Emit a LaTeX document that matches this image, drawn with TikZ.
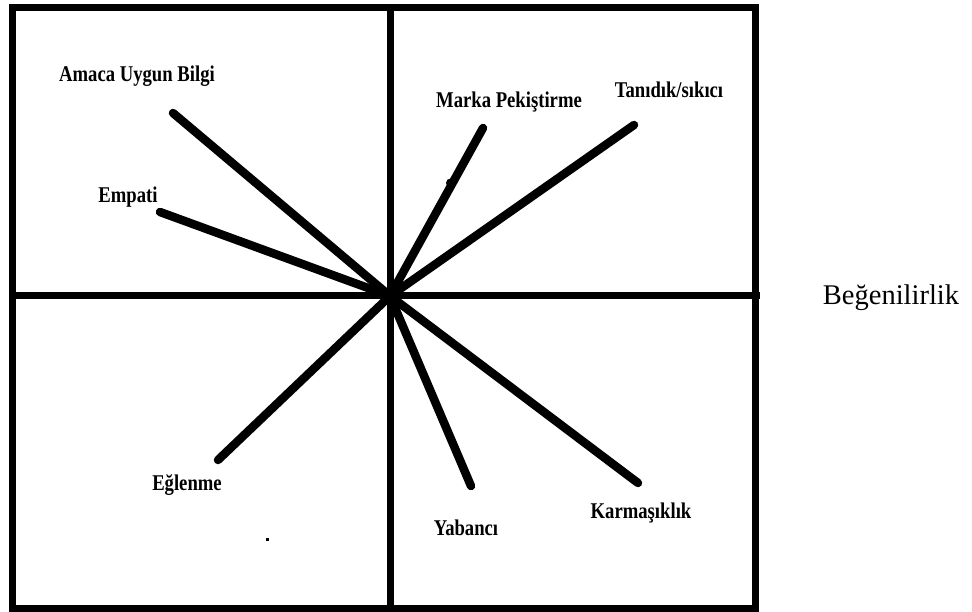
\documentclass[tikz,border=0pt]{standalone}
\usepackage{fontspec}
\setmainfont{Liberation Serif}
\newfontfamily\labfont[FakeStretch=0.83]{Liberation Serif}
\begin{document}
\begin{tikzpicture}[x=1pt,y=-1pt,
  frame/.style={line width=7pt},
  ray/.style={line width=8.5pt,line cap=round},
  lab/.style={inner sep=0pt,font=\labfont\bfseries\fontsize{22.5}{26}\selectfont},
  axislab/.style={inner sep=0pt,font=\fontsize{28.5}{32}\selectfont}]
\useasboundingbox (0,0) rectangle (972,612);
% frame and axes
\draw[frame] (12.7,7.5) rectangle (755,608);
\coordinate (top) at (390,7.5);
\coordinate (bot) at (390,608);
\coordinate (lft) at (12.7,296);
\coordinate (rgt) at (760,296);
\coordinate (c) at (390,296);
\draw[frame] (top) -- (bot);
\draw[frame] (lft) -- (rgt);
% ray ends
\coordinate (eA) at (173,113);
\coordinate (eE) at (160,212);
\coordinate (eM) at (483,128);
\coordinate (eT) at (634,125);
\coordinate (eG) at (218,460);
\coordinate (eY) at (471,486);
\coordinate (eK) at (638,483);
\foreach \e in {eA,eE,eM,eT,eG,eY,eK}{\draw[ray] (c) -- (\e);}
\fill (450.5,183) circle (4.5pt);
\fill (266,538) rectangle (269,541);
% labels
\node[lab] (lA) at (137,76) {Amaca Uygun Bilgi};
\node[lab] (lE) at (128,197) {Empati};
\node[lab] (lM) at (509,102) {Marka Pekiştirme};
\node[lab] (lT) at (669,90) {Tanıdık/sıkıcı};
\node[lab] (lG) at (187,485) {Eğlenme};
\node[lab] (lY) at (466,528) {Yabancı};
\node[lab] (lK) at (641,513) {Karmaşıklık};
\node[axislab] (lB) at (891,298) {Beğenilirlik};
\end{tikzpicture}
\end{document}
